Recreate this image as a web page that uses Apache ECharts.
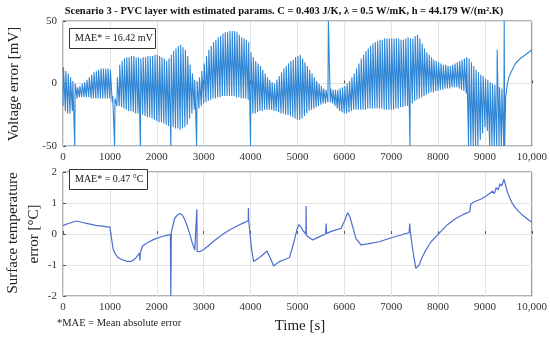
<!DOCTYPE html>
<html><head><meta charset="utf-8">
<script src="https://cdn.jsdelivr.net/npm/echarts@6/dist/echarts.min.js"></script>
<style>html,body{margin:0;padding:0;background:#fff}#c{width:550px;height:339px}</style>
</head><body><div id="c"></div>
<script>
// Voltage error: oscillation peaks / troughs, one cycle every 50 s from 0 to 9400 s
const cycleStep = 50;
const vHi = [
 13,10,8,5,2,0,-3,-2,0,1,3,5,7,9,10,11,12,12,12,12,
 11,-10,-12,5,15,18,20,21,21,22,22,21,21,20,21,21,22,22,22,23,
 23,22,21,20,18,20,23,26,28,30,31,29,27,22,15,8,3,2,5,10,
 16,22,27,30,33,35,37,38,40,41,41,42,42,42,41,39,37,36,35,33,
 25,21,18,16,14,11,8,5,3,1,0,3,6,9,12,14,16,18,19,21,
 22,23,20,17,14,11,8,5,2,0,-2,-4,-5,50,-4,-5,-5,-5,-4,-3,
 -2,0,2,5,8,12,16,20,23,26,28,30,32,33,34,35,35,36,36,36,
 36,36,36,36,35,35,36,37,36,36,38,39,36,32,28,25,23,21,19,18,
 17,16,15,15,14,14,15,16,17,18,19,20,21,20,17,14,11,9,7,6,
 4,3,1,0,-1,27,-3,-4,50
];
const vLo = [
 -18,-22,-24,-24,-22,-50,-12,-11,-11,-11,-11,-11,-12,-12,-12,-12,-12,-12,-12,-12,
 -12,-15,-50,-18,-18,-19,-20,-21,-22,-22,-23,-24,-24,-50,-25,-26,-27,-27,-28,-29,
 -30,-31,-31,-32,-33,-34,-50,-35,-36,-36,-37,-36,-35,-33,-28,-24,-21,-50,-20,-18,
 -16,-15,-14,-13,-12,-12,-11,-11,-10,-10,-10,-10,-10,-10,-11,-11,-12,-12,-12,-13,
 -50,-24,-24,-23,-22,-22,-21,-21,-21,-21,-22,-22,-23,-24,-24,-25,-25,-26,-27,-28,
 -29,-29,-28,-26,-24,-22,-21,-20,-19,-18,-17,-16,-16,-15,-15,-16,-18,-20,-22,-23,
 -24,-24,-23,-22,-21,-21,-21,-21,-21,-21,-20,-20,-20,-20,-20,-20,-20,-21,-21,-21,
 -21,-21,-20,-20,-19,-19,-18,-18,-50,-16,-14,-13,-12,-11,-10,-9,-8,-7,-7,-6,
 -6,-5,-5,-4,-4,-4,-3,-3,-3,-4,-5,-6,-8,-50,-50,-50,-50,-50,-45,-40,
 -35,-38,-50,-50,-50,-50,-50,-50,-50
];
// Voltage error: smooth tail after the last cycle
const tailT = [9420, 9440, 9480, 9510, 9580, 9650, 9750, 9865, 10000];
const tailV = [-50, -11, 0, 5, 11, 16, 20, 23, 27];

// Surface temperature error [°C]
const tempT = [0,100,200,290,400,500,600,700,800,900,1000,1030,1070,1120,1170,1250,1355,1460,1550,1630,1640,1650,1700,1800,1915,2000,2100,2200,2290,2300,2310,2380,2450,2500,2550,2600,2650,2700,2760,2810,2850,2855,2860,2915,3000,3100,3200,3300,3400,3550,3700,3850,3950,3955,3960,4015,4065,4130,4190,4270,4350,4440,4490,4550,4617,4700,4830,4880,4936,4990,5030,5080,5115,5180,5185,5190,5215,5326,5450,5600,5610,5615,5620,5750,5929,6000,6070,6120,6177,6250,6355,6500,6745,7000,7200,7383,7395,7405,7454,7525,7596,7660,7738,7850,8021,8200,8376,8550,8674,8695,8720,8760,8800,8840,8880,8920,8960,9000,9040,9080,9120,9160,9200,9240,9280,9320,9360,9404,9475,9530,9582,9650,9723,9800,9865,9930,10000];
const tempV = [0.27,0.33,0.38,0.42,0.38,0.34,0.31,0.28,0.26,0.24,0.22,0.2,-0.5,-0.65,-0.76,-0.82,-0.88,-0.88,-0.78,-0.62,-0.85,-0.6,-0.38,-0.28,-0.19,-0.14,-0.09,-0.05,-0.01,-2.0,0.05,0.5,0.63,0.66,0.6,0.45,0.25,0.02,-0.3,-0.52,-0.55,0.8,-0.56,-0.57,-0.5,-0.38,-0.25,-0.13,-0.02,0.13,0.25,0.36,0.43,0.84,0.45,-0.41,-0.89,-0.82,-0.76,-0.66,-0.55,-0.84,-1.03,-0.96,-0.89,-0.84,-0.76,-0.5,-0.19,0.15,0.3,0.22,0.12,0.0,0.9,-0.05,-0.1,-0.19,-0.1,0.0,0.0,0.34,0.02,0.1,0.18,0.4,0.69,0.55,0.24,-0.15,-0.35,-0.32,-0.25,-0.12,-0.04,0.05,0.34,0.1,-0.46,-1.11,-1.0,-0.75,-0.52,-0.25,0.02,0.3,0.5,0.64,0.72,0.96,0.93,1.03,0.98,1.08,1.03,1.13,1.08,1.2,1.15,1.28,1.22,1.38,1.3,1.5,1.42,1.62,1.55,1.77,1.37,1.15,0.99,0.84,0.72,0.61,0.53,0.45,0.38];

const xTicks = ['0','1000','2000','3000','4000','5000','6000','7000','8000','9000','10,000'];

const voltData = [];
for (let i = 0; i < vHi.length; i++) {
  const t = i * cycleStep;
  voltData.push([t, vLo[i]]);
  voltData.push([t + 10, vHi[i]]);
}
for (let i = 0; i < tailT.length; i++) voltData.push([tailT[i], tailV[i]]);
const tempData = tempT.map((t, i) => [t, tempV[i]]);

const FONT = '"Liberation Serif", "DejaVu Serif", serif';
const chart = echarts.init(document.getElementById('c'), null, {renderer: 'canvas'});
const xAxisBase = (gi) => ({
  type: 'value', gridIndex: gi, min: 0, max: 10000, interval: 1000,
  axisLine: {show: false},
  axisTick: {show: true, inside: true, length: 3, lineStyle: {color: '#555'}},
  splitLine: {show: true, lineStyle: {color: '#e2e2e2', width: 1}},
  axisLabel: {fontFamily: FONT, fontSize: 11, color: '#333', margin: 6,
    formatter: (v) => xTicks[Math.round(v / 1000)]}
});
chart.setOption({
  animation: false,
  backgroundColor: '#fff',
  grid: [
    {left: 63, right: 16, top: 21, height: 125, show: true, borderColor: '#666', borderWidth: 1, backgroundColor: 'transparent'},
    {left: 63, right: 16, top: 172, height: 124, show: true, borderColor: '#666', borderWidth: 1, backgroundColor: 'transparent'}
  ],
  xAxis: [xAxisBase(0), xAxisBase(1)],
  yAxis: [
    {type: 'value', gridIndex: 0, min: -50, max: 50, interval: 50,
     axisLine: {show: false},
     axisTick: {show: true, inside: true, length: 3, lineStyle: {color: '#555'}},
     splitLine: {show: true, lineStyle: {color: '#e2e2e2'}},
     axisLabel: {fontFamily: FONT, fontSize: 11, color: '#333', margin: 6}},
    {type: 'value', gridIndex: 1, min: -2, max: 2, interval: 1,
     axisLine: {show: false},
     axisTick: {show: true, inside: true, length: 3, lineStyle: {color: '#555'}},
     splitLine: {show: true, lineStyle: {color: '#e2e2e2'}},
     axisLabel: {fontFamily: FONT, fontSize: 11, color: '#333', margin: 6}}
  ],
  series: [
    {type: 'line', xAxisIndex: 0, yAxisIndex: 0, data: voltData, showSymbol: false, clip: true,
     lineStyle: {color: '#2f86d6', width: 1.1}},
    {type: 'line', xAxisIndex: 1, yAxisIndex: 1, data: tempData, showSymbol: false, clip: true,
     lineStyle: {color: '#4b6ed0', width: 1.2}}
  ],
  graphic: [
    {type: 'text', x: 284, y: 11, style: {text: 'Scenario 3 - PVC layer with estimated params. C = 0.403 J/K, \u03bb = 0.5 W/mK, h = 44.179 W/(m\u00b2.K)',
      font: 'bold 10.5px ' + FONT, fill: '#111', textAlign: 'center', textVerticalAlign: 'middle'}},
    {type: 'text', x: 14, y: 84, rotation: Math.PI / 2, style: {text: 'Voltage error [mV]', font: '15px ' + FONT, fill: '#222', textAlign: 'center', textVerticalAlign: 'middle'}},
    {type: 'text', x: 13, y: 233, rotation: Math.PI / 2, style: {text: 'Surface temperature', font: '15px ' + FONT, fill: '#222', textAlign: 'center', textVerticalAlign: 'middle'}},
    {type: 'text', x: 34, y: 234, rotation: Math.PI / 2, style: {text: 'error [\u00b0C]', font: '15px ' + FONT, fill: '#222', textAlign: 'center', textVerticalAlign: 'middle'}},
    {type: 'text', x: 300, y: 326, style: {text: 'Time [s]', font: '15px ' + FONT, fill: '#222', textAlign: 'center', textVerticalAlign: 'middle'}},
    {type: 'text', x: 57, y: 323, style: {text: '*MAE = Mean absolute error', font: '10.5px ' + FONT, fill: '#222', textAlign: 'left', textVerticalAlign: 'middle'}},
    {type: 'rect', shape: {x: 69.5, y: 28.5, width: 86, height: 20}, style: {fill: '#fff', stroke: '#333', lineWidth: 1}, z: 100},
    {type: 'text', x: 75, y: 38.5, z: 101, style: {text: 'MAE* = 16.42 mV', font: '10px ' + FONT, fill: '#111', textAlign: 'left', textVerticalAlign: 'middle'}},
    {type: 'rect', shape: {x: 69.5, y: 169.5, width: 78, height: 20}, style: {fill: '#fff', stroke: '#333', lineWidth: 1}, z: 100},
    {type: 'text', x: 75, y: 179.5, z: 101, style: {text: 'MAE* = 0.47 \u00b0C', font: '10px ' + FONT, fill: '#111', textAlign: 'left', textVerticalAlign: 'middle'}}
  ]
});
</script></body></html>
